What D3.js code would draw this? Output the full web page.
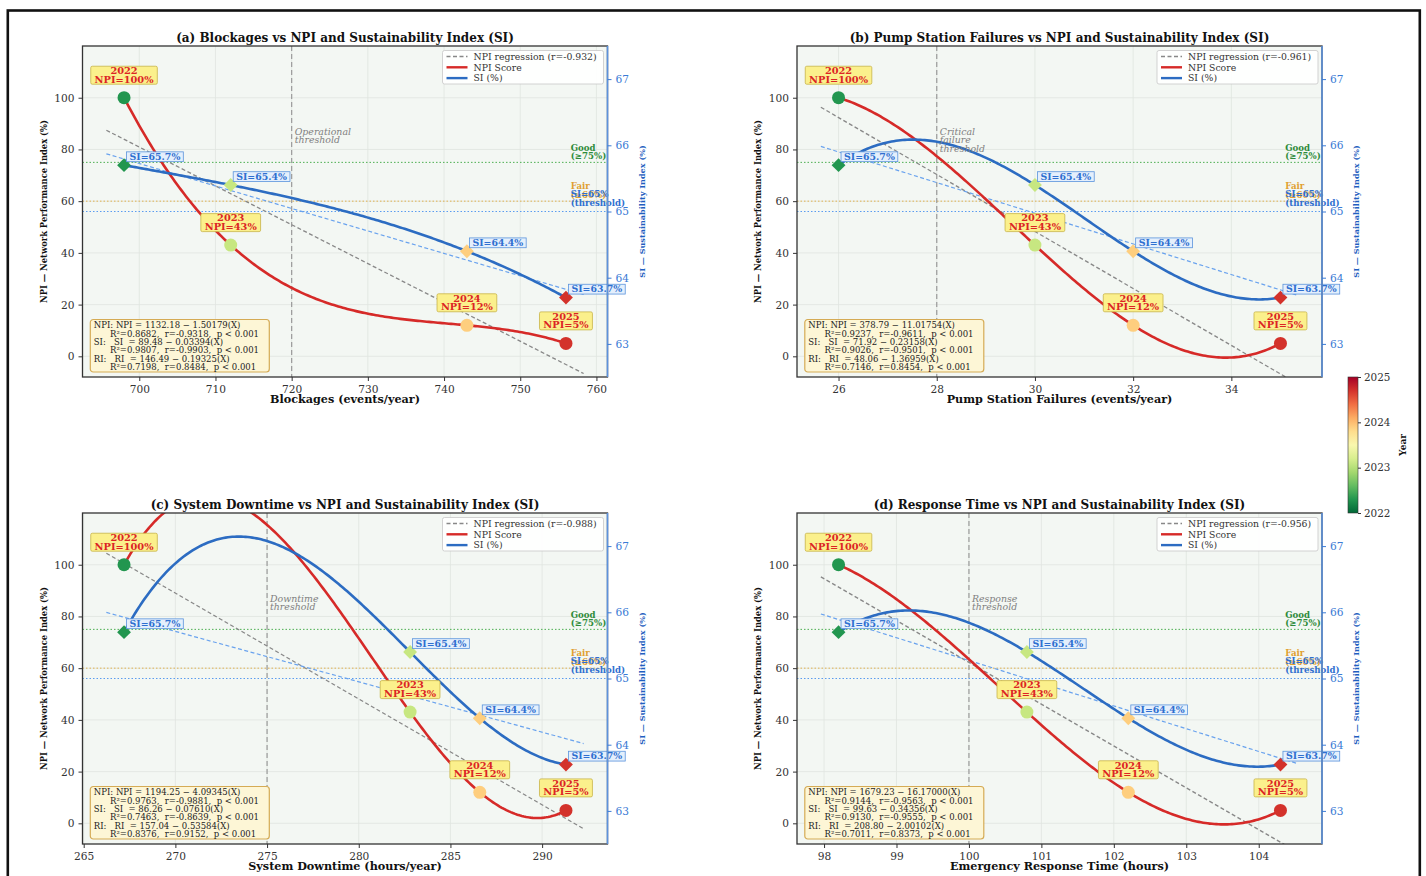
<!DOCTYPE html>
<html>
<head>
<meta charset="utf-8">
<script src="https://cdn.jsdelivr.net/npm/d3@7"></script>
<style>
  body { margin: 0; background: #fff; }
  svg text { font-family: "DejaVu Serif", serif; }
</style>
</head>
<body>
<svg id="chart" width="1426" height="876"></svg>
<script>
(function() {

  // ---- data ----
  var years = [2022, 2023, 2024, 2025];
  var npi = [100, 43, 12, 5];
  var si = [65.7, 65.4, 64.4, 63.7];
  var blockages = [698, 712, 743, 756];
  var pumpFailures = [26, 30, 32, 35];
  var downtime = [267.2, 282.8, 286.6, 291.3];
  var responseTime = [98.2, 100.8, 102.2, 104.3];

  var npiTicks = [0, 20, 40, 60, 80, 100];
  var siTicks = [63, 64, 65, 66, 67];
  var yearTicks = [2022, 2023, 2024, 2025];
  var blockageTicks = [700, 710, 720, 730, 740, 750, 760];
  var pumpTicks = [26, 28, 30, 32, 34];
  var downtimeTicks = [265, 270, 275, 280, 285, 290];
  var responseTicks = [98, 99, 100, 101, 102, 103, 104];

  var goodLevel = 75, fairLevel = 60, siThreshold = 65;

  var statsA = ['NPI: NPI = 1132.18 \u2212 1.50179(X)', '      R\u00b2=0.8682,  r=-0.9318,  p < 0.001',
    'SI:   SI  = 89.48 \u2212 0.03394(X)', '      R\u00b2=0.9807,  r=-0.9903,  p < 0.001',
    'RI:   RI  = 146.49 \u2212 0.19325(X)', '      R\u00b2=0.7198,  r=0.8484,  p < 0.001'];
  var statsB = ['NPI: NPI = 378.79 \u2212 11.01754(X)', '      R\u00b2=0.9237,  r=-0.9611,  p < 0.001',
    'SI:   SI  = 71.92 \u2212 0.23158(X)', '      R\u00b2=0.9026,  r=-0.9501,  p < 0.001',
    'RI:   RI  = 48.06 \u2212 1.36959(X)', '      R\u00b2=0.7146,  r=0.8454,  p < 0.001'];
  var statsC = ['NPI: NPI = 1194.25 \u2212 4.09345(X)', '      R\u00b2=0.9763,  r=-0.9881,  p < 0.001',
    'SI:   SI  = 86.26 \u2212 0.07610(X)', '      R\u00b2=0.7463,  r=-0.8639,  p < 0.001',
    'RI:   RI  = 157.04 \u2212 0.53584(X)', '      R\u00b2=0.8376,  r=0.9152,  p < 0.001'];
  var statsD = ['NPI: NPI = 1679.23 \u2212 16.17000(X)', '      R\u00b2=0.9144,  r=-0.9563,  p < 0.001',
    'SI:   SI  = 99.63 \u2212 0.34356(X)', '      R\u00b2=0.9130,  r=-0.9555,  p < 0.001',
    'RI:   RI  = 208.80 \u2212 2.00102(X)', '      R\u00b2=0.7011,  r=0.8373,  p < 0.001'];

  var panels = [
    { title: '(a) Blockages vs NPI and Sustainability Index (SI)', x: blockages, ticks: blockageTicks,
      xLabel: 'Blockages (events/year)', thr: 720, thrText: ['Operational', 'threshold'], stats: statsA, left: 82.5, top: 46 },
    { title: '(b) Pump Station Failures vs NPI and Sustainability Index (SI)', x: pumpFailures, ticks: pumpTicks,
      xLabel: 'Pump Station Failures (events/year)', thr: 28, thrText: ['Critical', 'failure', 'threshold'], stats: statsB, left: 797, top: 46 },
    { title: '(c) System Downtime vs NPI and Sustainability Index (SI)', x: downtime, ticks: downtimeTicks,
      xLabel: 'System Downtime (hours/year)', thr: 275, thrText: ['Downtime', 'threshold'], stats: statsC, left: 82.5, top: 513 },
    { title: '(d) Response Time vs NPI and Sustainability Index (SI)', x: responseTime, ticks: responseTicks,
      xLabel: 'Emergency Response Time (hours)', thr: 100, thrText: ['Response', 'threshold'], stats: statsD, left: 797, top: 513 }
  ];

  var PW = 525, PH = 331;
  var RED = '#d62a28', BLUE = '#2c6cc2', SIBLUE = '#3a7bd5';

  var svg = d3.select('#chart');
  var defs = svg.append('defs');

  function yearColor(i) {
    return d3.interpolateRdYlGn(0.9 - 0.8 * i / (years.length - 1));
  }

  // cubic through the four points (same as a k=3 interpolating spline)
  function cubicThrough(xs, ys) {
    return function(x) {
      var s = 0;
      for (var i = 0; i < xs.length; i++) {
        var t = ys[i];
        for (var j = 0; j < xs.length; j++) if (j !== i) t *= (x - xs[j]) / (xs[i] - xs[j]);
        s += t;
      }
      return s;
    };
  }

  function fit(xs, ys) {
    var mx = d3.mean(xs), my = d3.mean(ys), sxx = 0, sxy = 0, syy = 0;
    xs.forEach(function(x, i) {
      sxx += (x - mx) * (x - mx);
      sxy += (x - mx) * (ys[i] - my);
      syy += (ys[i] - my) * (ys[i] - my);
    });
    var slope = sxy / sxx;
    return { slope: slope, intercept: my - slope * mx, r: sxy / Math.sqrt(sxx * syy) };
  }

  function styleAxis(g, color, size) {
    g.attr('font-family', null).attr('font-size', null);
    g.select('.domain').remove();
    g.selectAll('line').attr('stroke', color);
    g.selectAll('text').attr('fill', color).style('font-size', size || '10.6px');
  }

  panels.forEach(function(p, pi) {
    var xs = p.x;
    var xMin = d3.min(xs), xMax = d3.max(xs), rng = xMax - xMin;
    var rLo = xMin - 0.04 * rng, rHi = xMax + 0.04 * rng;
    var pad = 0.05 * (rHi - rLo);

    var x = d3.scaleLinear().domain([rLo - pad, rHi + pad]).range([0, PW]);
    var yL = d3.scaleLinear().domain([-8, 120]).range([PH, 0]);
    var yR = d3.scaleLinear().domain([62.5, 67.5]).range([PH, 0]);

    var g = svg.append('g').attr('transform', 'translate(' + p.left + ',' + p.top + ')');
    var clipId = 'clip' + pi;
    defs.append('clipPath').attr('id', clipId).append('rect').attr('width', PW).attr('height', PH);

    g.append('rect').attr('width', PW).attr('height', PH).attr('fill', '#f3f7f3');

    // grid
    g.append('g').selectAll('line').data(p.ticks).enter().append('line')
      .attr('x1', function(d) { return x(d); }).attr('x2', function(d) { return x(d); })
      .attr('y1', 0).attr('y2', PH).attr('stroke', '#dfe4df').attr('stroke-width', 0.8);
    g.append('g').selectAll('line').data(npiTicks).enter().append('line')
      .attr('x1', 0).attr('x2', PW)
      .attr('y1', function(d) { return yL(d); }).attr('y2', function(d) { return yL(d); })
      .attr('stroke', '#dfe4df').attr('stroke-width', 0.8);

    var plot = g.append('g').attr('clip-path', 'url(#' + clipId + ')');

    // threshold levels
    plot.append('line').attr('x1', 0).attr('x2', PW).attr('y1', yL(goodLevel)).attr('y2', yL(goodLevel))
      .attr('stroke', '#4caf50').attr('stroke-width', 1).attr('stroke-dasharray', '1.5,2');
    plot.append('line').attr('x1', 0).attr('x2', PW).attr('y1', yL(fairLevel)).attr('y2', yL(fairLevel))
      .attr('stroke', '#e0b050').attr('stroke-width', 1).attr('stroke-dasharray', '1.5,2');
    plot.append('line').attr('x1', 0).attr('x2', PW).attr('y1', yR(siThreshold)).attr('y2', yR(siThreshold))
      .attr('stroke', '#5b9cf0').attr('stroke-width', 1.2).attr('stroke-dasharray', '1.5,2');

    // vertical threshold
    plot.append('line').attr('x1', x(p.thr)).attr('x2', x(p.thr)).attr('y1', 0).attr('y2', PH)
      .attr('stroke', '#9a9a9a').attr('stroke-width', 1.2).attr('stroke-dasharray', '5,3');
    var tt = g.append('text').attr('x', x(p.thr) + 3).attr('y', PH * 0.26 + 3)
      .attr('fill', '#808080').style('font-size', '9.4px').style('font-style', 'italic');
    p.thrText.forEach(function(s, i) {
      tt.append('tspan').attr('x', x(p.thr) + 3).attr('dy', i === 0 ? 0 : 8.4).text(s);
    });

    // regressions
    var fN = fit(xs, npi), fS = fit(xs, si);
    var regX = [rLo, rHi];
    plot.append('path')
      .attr('d', d3.line().x(function(d) { return x(d); }).y(function(d) { return yL(fN.intercept + fN.slope * d); })(regX))
      .attr('fill', 'none').attr('stroke', '#888').attr('stroke-width', 1.3).attr('stroke-dasharray', '4,2.5');
    plot.append('path')
      .attr('d', d3.line().x(function(d) { return x(d); }).y(function(d) { return yR(fS.intercept + fS.slope * d); })(regX))
      .attr('fill', 'none').attr('stroke', '#6aa3ee').attr('stroke-width', 1.2).attr('stroke-dasharray', '4,2.5');

    // smooth curves
    var sx = d3.range(0, 201).map(function(i) { return xMin + rng * i / 200; });
    var cN = cubicThrough(xs, npi), cS = cubicThrough(xs, si);
    plot.append('path')
      .attr('d', d3.line().x(function(d) { return x(d); }).y(function(d) { return yL(cN(d)); })(sx))
      .attr('fill', 'none').attr('stroke', RED).attr('stroke-width', 2.6);
    plot.append('path')
      .attr('d', d3.line().x(function(d) { return x(d); }).y(function(d) { return yR(cS(d)); })(sx))
      .attr('fill', 'none').attr('stroke', BLUE).attr('stroke-width', 2.6);

    // markers
    g.append('g').selectAll('circle').data(xs).enter().append('circle')
      .attr('cx', function(d) { return x(d); })
      .attr('cy', function(d, i) { return yL(npi[i]); })
      .attr('r', 6.5)
      .attr('fill', function(d, i) { return yearColor(i); });
    g.append('g').selectAll('path').data(xs).enter().append('path')
      .attr('d', d3.symbol(d3.symbolSquare, 96))
      .attr('transform', function(d, i) { return 'translate(' + x(d) + ',' + yR(si[i]) + ') rotate(45)'; })
      .attr('fill', function(d, i) { return yearColor(i); });

    // threshold labels at right
    function rightLabel(lines, yBase, color) {
      var t = g.append('text').attr('x', PW * 0.93).attr('y', yBase - 8.2 * (lines.length - 1))
        .attr('fill', color).style('font-size', '8.6px').style('font-weight', 'bold');
      lines.forEach(function(s, i) {
        t.append('tspan').attr('x', PW * 0.93).attr('dy', i === 0 ? 0 : 8.2).text(s);
      });
    }
    rightLabel(['Good', '(\u226575%)'], yL(goodLevel) - 3.5, '#2e8b3a');
    rightLabel(['Fair', '(\u226560%)'], yL(fairLevel) - 3.5, '#e0a030');
    rightLabel(['SI=65%', '(threshold)'], yR(siThreshold) - 6, '#2f6fd0');

    // NPI annotations
    xs.forEach(function(xv, i) {
      var cx = x(xv), cy = yL(npi[i]) - 22.5;
      var a = g.append('g');
      var t = a.append('text').attr('text-anchor', 'middle').attr('fill', '#dc2424')
        .style('font-size', '9.8px').style('font-weight', 'bold');
      t.append('tspan').attr('x', cx).attr('y', cy - 1.2).text(years[i]);
      t.append('tspan').attr('x', cx).attr('y', cy + 7.4).text('NPI=' + npi[i] + '%');
      var bw = t.node().getBBox().width + 7, bh = 18;
      a.insert('rect', 'text').attr('x', cx - bw / 2).attr('y', cy - bh / 2).attr('width', bw).attr('height', bh)
        .attr('rx', 1.5).attr('fill', '#fbf08c').attr('stroke', '#c8b448').attr('stroke-width', 0.8);
    });

    // SI annotations
    xs.forEach(function(xv, i) {
      var lx = x(xv) + 2.5, ly = yR(si[i]) - 8.5;
      var a = g.append('g');
      var t = a.append('text').attr('x', lx + 3).attr('y', ly + 3.3).attr('fill', '#2f6fd0')
        .style('font-size', '9.4px').style('font-weight', 'bold').text('SI=' + si[i].toFixed(1) + '%');
      var w = t.node().getComputedTextLength();
      a.insert('rect', 'text').attr('x', lx).attr('y', ly - 4.8).attr('width', w + 6).attr('height', 9.8)
        .attr('fill', '#e4effc').attr('stroke', '#5a93dc').attr('stroke-width', 0.8);
    });

    // legend
    var lg = g.append('g').attr('transform', 'translate(' + (PW - 165) + ',4.5)');
    lg.append('rect').attr('width', 161).attr('height', 33.5).attr('rx', 2)
      .attr('fill', '#fff').attr('fill-opacity', 0.92).attr('stroke', '#c8c8c8').attr('stroke-width', 0.8);
    var items = [
      { label: 'NPI regression (r=' + fN.r.toFixed(3) + ')', color: '#888', w: 1.3, dash: '4,2.5' },
      { label: 'NPI Score', color: RED, w: 2.4, dash: null },
      { label: 'SI (%)', color: BLUE, w: 2.4, dash: null }
    ];
    items.forEach(function(it, i) {
      var yy = 6 + i * 10.8;
      lg.append('line').attr('x1', 4).attr('x2', 25).attr('y1', yy).attr('y2', yy)
        .attr('stroke', it.color).attr('stroke-width', it.w).attr('stroke-dasharray', it.dash);
      lg.append('text').attr('x', 31).attr('y', yy + 3.2).attr('fill', '#333')
        .style('font-size', '9.3px').text(it.label);
    });

    // stats box
    var sb = g.append('g').attr('transform', 'translate(7.8,' + (PH - 57.5) + ')');
    sb.append('rect').attr('width', 179).attr('height', 52.5).attr('rx', 3)
      .attr('fill', '#fdf6d6').attr('stroke', '#d5ab55').attr('stroke-width', 1.2);
    sb.selectAll('text').data(p.stats).enter().append('text')
      .attr('x', 3.5).attr('y', function(d, i) { return 8.6 + i * 8.4; })
      .attr('fill', '#222').style('font-size', '8.5px').style('white-space', 'pre')
      .text(function(d) { return d; });

    // frame
    g.append('rect').attr('width', PW).attr('height', PH).attr('fill', 'none')
      .attr('stroke', '#333').attr('stroke-width', 1.3);
    g.append('line').attr('x1', PW).attr('x2', PW).attr('y1', 0).attr('y2', PH)
      .attr('stroke', '#5d92dc').attr('stroke-width', 1.6);

    // axes
    g.append('g').attr('transform', 'translate(0,' + PH + ')')
      .call(d3.axisBottom(x).tickValues(p.ticks).tickFormat(d3.format('d')).tickSize(4).tickPadding(4))
      .call(styleAxis, '#333');
    g.append('g')
      .call(d3.axisLeft(yL).tickValues(npiTicks).tickSize(4).tickPadding(4))
      .call(styleAxis, '#333');
    g.append('g').attr('transform', 'translate(' + PW + ',0)')
      .call(d3.axisRight(yR).tickValues(siTicks).tickFormat(d3.format('d')).tickSize(4).tickPadding(4))
      .call(styleAxis, SIBLUE);

    // titles and labels
    g.append('text').attr('x', PW / 2).attr('y', -4.5).attr('text-anchor', 'middle').attr('fill', '#111')
      .style('font-size', '12px').style('font-weight', 'bold').text(p.title);
    g.append('text').attr('x', PW / 2).attr('y', PH + 26).attr('text-anchor', 'middle').attr('fill', '#111')
      .style('font-size', '11.2px').style('font-weight', 'bold').text(p.xLabel);
    g.append('text').attr('transform', 'translate(-36,' + (PH / 2) + ') rotate(-90)')
      .attr('text-anchor', 'middle').attr('fill', '#111')
      .style('font-size', '8.4px').style('font-weight', 'bold').text('NPI \u2014 Network Performance Index (%)');
    g.append('text').attr('transform', 'translate(' + (PW + 37) + ',' + (PH / 2) + ') rotate(-90)')
      .attr('text-anchor', 'middle').attr('fill', '#1f5fc0')
      .style('font-size', '8.1px').style('font-weight', 'bold').text('SI \u2014 Sustainability Index (%)');
  });

  // colorbar
  var grad = defs.append('linearGradient').attr('id', 'cbar')
    .attr('x1', '0%').attr('y1', '100%').attr('x2', '0%').attr('y2', '0%');
  d3.range(0, 11).forEach(function(i) {
    grad.append('stop').attr('offset', (i * 10) + '%').attr('stop-color', d3.interpolateRdYlGn(1 - i / 10));
  });
  var cy = d3.scaleLinear().domain([2022, 2025]).range([513, 377]);
  svg.append('rect').attr('x', 1348).attr('y', 377).attr('width', 10).attr('height', 136)
    .attr('fill', 'url(#cbar)').attr('stroke', '#333').attr('stroke-width', 0.6);
  svg.append('g').attr('transform', 'translate(1358,0)')
    .call(d3.axisRight(cy).tickValues(yearTicks).tickFormat(d3.format('d')).tickSize(3).tickPadding(3))
    .call(styleAxis, '#333', '10.4px');
  svg.append('text').attr('transform', 'translate(1406,445) rotate(-90)').attr('text-anchor', 'middle')
    .attr('fill', '#111').style('font-size', '9px').style('font-weight', 'bold').text('Year');

  // outer border
  svg.append('rect').attr('x', 7.8).attr('y', 10.5).attr('width', 1412).attr('height', 900)
    .attr('fill', 'none').attr('stroke', '#111').attr('stroke-width', 2.6);

})();
</script>
</body>
</html>
